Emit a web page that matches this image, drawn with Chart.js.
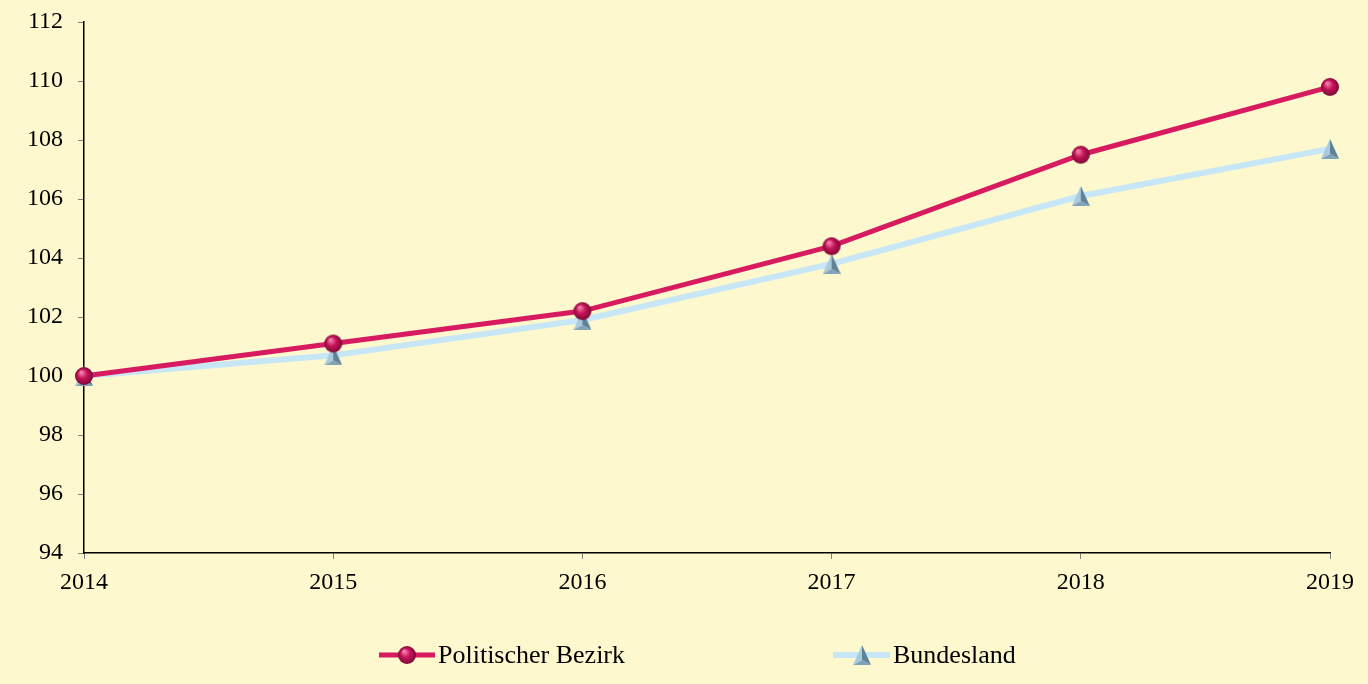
<!DOCTYPE html>
<html>
<head>
<meta charset="utf-8">
<script src="https://cdn.jsdelivr.net/npm/chart.js@4"></script>
<style>
  html, body { margin: 0; padding: 0; background: #fdf8cd; }
  #wrap { position: relative; width: 1368px; height: 684px; }
  #legend {
    position: absolute; left: 0; top: 638px; width: 1368px; height: 34px;
    font-family: "Liberation Serif", "Times New Roman", serif; font-size: 26px; color: #000;
  }
  .item { position: absolute; top: 0; display: flex; align-items: center; height: 34px; }
  .item canvas { display: block; margin-right: 3px; }
</style>
</head>
<body>
<div id="wrap">
  <canvas id="chart" width="1368" height="684"></canvas>
  <div id="legend">
    <div class="item" style="left:379px"><canvas id="leg1" width="56" height="24"></canvas><span>Politischer Bezirk</span></div>
    <div class="item" style="left:833px"><canvas id="leg2" width="57" height="24"></canvas><span>Bundesland</span></div>
  </div>
</div>
<script>
const years = ['2014', '2015', '2016', '2017', '2018', '2019'];
const bezirk = [100, 101.1, 102.2, 104.4, 107.5, 109.8];
const bundesland = [100, 100.7, 101.9, 103.8, 106.1, 107.7];

const pink = '#d81b60';
const lightBlue = '#c8e7f6';

function makeBall(r) {
  const c = document.createElement('canvas');
  c.width = c.height = r * 2 + 2;
  const ctx = c.getContext('2d');
  const g = ctx.createRadialGradient(r - r * 0.2, r - r * 0.3, 1, r + 1, r + 1, r);
  g.addColorStop(0, '#f27aa8');
  g.addColorStop(0.45, '#c8145a');
  g.addColorStop(1, '#7a0a35');
  ctx.fillStyle = g;
  ctx.beginPath();
  ctx.arc(r + 1, r + 1, r, 0, Math.PI * 2);
  ctx.fill();
  return c;
}

function makeTriangle(w, h) {
  const c = document.createElement('canvas');
  c.width = w;
  c.height = h;
  const ctx = c.getContext('2d');
  const mx = w / 2;
  // left face
  ctx.fillStyle = '#a9cbe0';
  ctx.beginPath();
  ctx.moveTo(mx, 0); ctx.lineTo(0, h); ctx.lineTo(mx, h - 5); ctx.closePath(); ctx.fill();
  // right face
  ctx.fillStyle = '#5f8298';
  ctx.beginPath();
  ctx.moveTo(mx, 0); ctx.lineTo(w, h); ctx.lineTo(mx, h - 5); ctx.closePath(); ctx.fill();
  // bottom face
  ctx.fillStyle = '#7fa3b8';
  ctx.beginPath();
  ctx.moveTo(0, h); ctx.lineTo(w, h); ctx.lineTo(mx, h - 5); ctx.closePath(); ctx.fill();
  return c;
}

const ball = makeBall(9);
const tri = makeTriangle(18, 20);

function drawLegendIcon(id, color, lw, img) {
  const cv = document.getElementById(id);
  const ctx = cv.getContext('2d');
  ctx.strokeStyle = color;
  ctx.lineWidth = lw;
  ctx.beginPath();
  ctx.moveTo(0, 12);
  ctx.lineTo(cv.width, 12);
  ctx.stroke();
  ctx.drawImage(img, Math.round(cv.width / 2 - img.width / 2), 12 - img.height / 2);
}
drawLegendIcon('leg1', pink, 5, ball);
drawLegendIcon('leg2', lightBlue, 6, tri);

const font = { family: '"Liberation Serif", "Times New Roman", serif', size: 24 };

new Chart(document.getElementById('chart'), {
  type: 'line',
  data: {
    labels: years,
    datasets: [
      {
        label: 'Bundesland',
        data: bundesland,
        borderColor: lightBlue,
        borderWidth: 6,
        pointStyle: tri,
        tension: 0,
        order: 2
      },
      {
        label: 'Politischer Bezirk',
        data: bezirk,
        borderColor: pink,
        borderWidth: 5,
        pointStyle: ball,
        tension: 0,
        order: 1
      }
    ]
  },
  options: {
    responsive: false,
    animation: false,
    layout: { padding: { left: 0, top: 22, right: 38, bottom: 0 } },
    plugins: {
      legend: { display: false },
      tooltip: { enabled: false }
    },
    scales: {
      x: {
        offset: false,
        grid: { drawOnChartArea: false, drawTicks: true, tickLength: 6, tickColor: '#808080' },
        border: { color: '#000', width: 1.5 },
        ticks: { color: '#000', font, padding: 9, maxRotation: 0 },
        afterFit: (scale) => {
          scale.height = 131;
          scale.paddingLeft = 0;
          scale.paddingRight = 0;
        }
      },
      y: {
        min: 94,
        max: 112,
        grid: { drawOnChartArea: false, drawTicks: true, tickLength: 6, tickColor: '#808080' },
        border: { color: '#000', width: 1.5 },
        ticks: { color: '#000', font, stepSize: 2, padding: 15 },
        afterFit: (scale) => {
          scale.width = 84;
          scale.paddingTop = 0;
          scale.paddingBottom = 0;
        }
      }
    }
  }
});
</script>
</body>
</html>
